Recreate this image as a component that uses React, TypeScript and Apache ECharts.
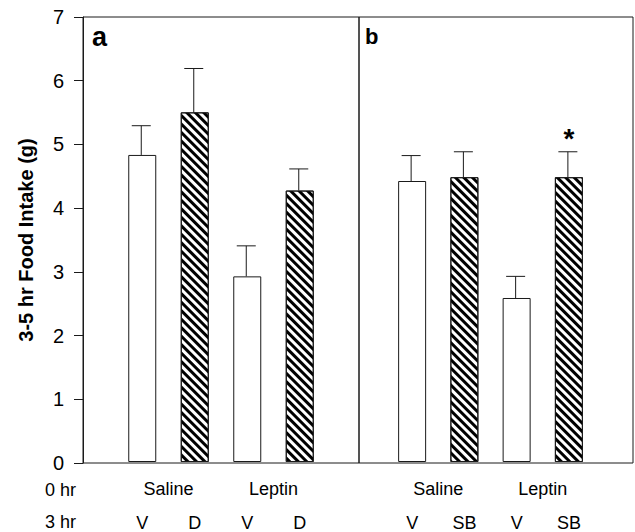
import React, { useEffect, useRef } from 'react';
import * as echarts from 'echarts';

const yMin = 0;
const yMax = 7;
const yInterval = 1;
const yTitle = '3-5 hr Food Intake (g)';

const groupsA = ['Saline', 'Leptin'];
const treatA = ['V', 'D', 'V', 'D'];
const meanA = [4.83, 5.5, 2.92, 4.27];
const upperA = [5.29, 6.19, 3.4, 4.61];
const sigA = ['', '', '', ''];

const groupsB = ['Saline', 'Leptin'];
const treatB = ['V', 'SB', 'V', 'SB'];
const meanB = [4.42, 4.48, 2.58, 4.48];
const upperB = [4.82, 4.88, 2.92, 4.88];
const sigB = ['', '', '', '*'];

const panelLabels = ['a', 'b'];
const rowLabels = ['0 hr', '3 hr'];

const FONT = 'Liberation Sans';
const INK = '#1a1a1a';

function barData(treat: string[], mean: number[]) {
  return mean.map((v, i) => {
    const hatched = treat[i] !== 'V';
    return {
      value: v,
      itemStyle: hatched
        ? {
            color: '#ffffff',
            borderColor: INK,
            borderWidth: 1,
            decal: {
              symbol: 'rect',
              symbolSize: 1,
              color: '#000000',
              dashArrayX: [1, 0],
              dashArrayY: [3, 3],
              rotation: Math.PI / 4,
            },
          }
        : { color: '#ffffff', borderColor: INK, borderWidth: 1 },
    };
  });
}

function errRender(sig: string[]) {
  return (params: any, api: any) => {
    const i = api.value(0);
    const base = api.coord([i, api.value(1)]);
    const top = api.coord([i, api.value(2)]);
    const half = 9.5;
    const x = base[0] - 1;
    const children: any[] = [
      { type: 'line', shape: { x1: x, y1: base[1], x2: x, y2: top[1] }, style: { stroke: INK, lineWidth: 1 } },
      { type: 'line', shape: { x1: x - half, y1: top[1], x2: x + half, y2: top[1] }, style: { stroke: INK, lineWidth: 1 } },
    ];
    if (sig[params.dataIndex]) {
      children.push({
        type: 'text',
        x: x + 1,
        y: top[1] + 1,
        style: {
          text: sig[params.dataIndex],
          fontSize: 28,
          fontWeight: 'bold',
          fontFamily: FONT,
          fill: '#000',
          align: 'center',
          verticalAlign: 'bottom',
        },
      });
    }
    return { type: 'group', children };
  };
}

export default function App() {
  const ref = useRef<HTMLDivElement>(null);
  useEffect(() => {
    if (!ref.current) return;
    const chart = echarts.init(ref.current, undefined, { renderer: 'svg' });
    const hiddenY = (g: number) => ({ type: 'value', gridIndex: g, min: yMin, max: yMax, interval: yInterval, show: false });
    const treatAxis = (g: number, data: string[]) => ({
      type: 'category',
      gridIndex: g,
      data,
      position: 'bottom',
      axisLine: { show: false },
      axisTick: { show: false },
      axisLabel: { margin: 52, fontSize: 18, color: '#000', fontFamily: FONT, interval: 0 },
    });
    const groupAxis = (g: number, data: string[]) => ({
      type: 'category',
      gridIndex: g,
      data,
      position: 'bottom',
      axisLine: { show: false },
      axisTick: { show: false },
      axisLabel: { margin: 18, fontSize: 18, color: '#000', fontFamily: FONT, interval: 0 },
    });
    chart.setOption({
      animation: false,
      backgroundColor: '#ffffff',
      grid: [
        { left: 83, top: 17, width: 276, height: 446, show: true, borderColor: INK, borderWidth: 1, backgroundColor: 'transparent' },
        { left: 359, top: 17, width: 274, height: 446, show: true, borderColor: INK, borderWidth: 1, backgroundColor: 'transparent' },
        { left: 116, top: 17, width: 210, height: 446 },
        { left: 386, top: 17, width: 209, height: 446 },
      ],
      xAxis: [
        { type: 'category', gridIndex: 0, data: [''], show: false },
        { type: 'category', gridIndex: 1, data: [''], show: false },
        treatAxis(2, treatA),
        groupAxis(2, groupsA),
        treatAxis(3, treatB),
        groupAxis(3, groupsB),
      ],
      yAxis: [
        {
          type: 'value',
          gridIndex: 0,
          min: yMin,
          max: yMax,
          interval: yInterval,
          name: yTitle,
          nameLocation: 'middle',
          nameGap: 47,
          nameTextStyle: { fontSize: 20, fontWeight: 'bold', fontFamily: FONT, color: '#000' },
          axisLine: { show: true, lineStyle: { color: INK, width: 1 } },
          axisTick: { show: true, inside: false, length: 9, lineStyle: { color: INK } },
          axisLabel: { fontSize: 20, color: '#000', fontFamily: FONT, margin: 19 },
          splitLine: { show: false },
        },
        hiddenY(1),
        hiddenY(2),
        hiddenY(3),
      ],
      series: [
        { type: 'bar', xAxisIndex: 2, yAxisIndex: 2, barWidth: 28, data: barData(treatA, meanA) },
        {
          type: 'custom',
          xAxisIndex: 2,
          yAxisIndex: 2,
          renderItem: errRender(sigA),
          encode: { x: 0, y: [1, 2] },
          data: meanA.map((v, i) => [i, v, upperA[i]]),
          z: 5,
        },
        { type: 'bar', xAxisIndex: 4, yAxisIndex: 3, barWidth: 28, data: barData(treatB, meanB) },
        {
          type: 'custom',
          xAxisIndex: 4,
          yAxisIndex: 3,
          renderItem: errRender(sigB),
          encode: { x: 0, y: [1, 2] },
          data: meanB.map((v, i) => [i, v, upperB[i]]),
          z: 5,
        },
      ],
      graphic: [
        { type: 'text', left: 92, top: 23, style: { text: panelLabels[0], fontSize: 27, fontWeight: 'bold', fontFamily: FONT, fill: '#000' } },
        { type: 'text', left: 365, top: 25, style: { text: panelLabels[1], fontSize: 22, fontWeight: 'bold', fontFamily: FONT, fill: '#000' } },
        { type: 'text', left: 45, top: 481, style: { text: rowLabels[0], fontSize: 18, fontFamily: FONT, fill: '#000' } },
        { type: 'text', left: 45, top: 513, style: { text: rowLabels[1], fontSize: 18, fontFamily: FONT, fill: '#000' } },
      ],
    });
    return () => chart.dispose();
  }, []);
  return <div ref={ref} style={{ width: 635, height: 532, position: 'absolute', left: 0, top: 0 }} />;
}
